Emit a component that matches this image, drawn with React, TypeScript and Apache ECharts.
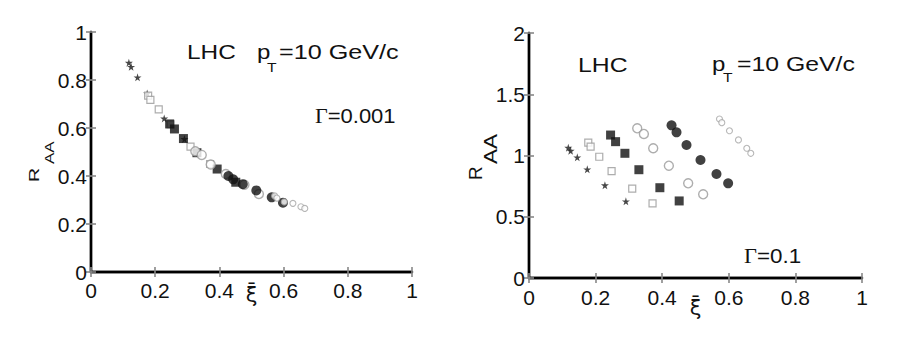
import React, { useEffect, useRef } from "react";
import * as echarts from "echarts";

// ξ̄ values of the six parameter sets (shared by both panels)
const xiA = [0.118, 0.125, 0.145, 0.175, 0.228, 0.291];
const xiB = [0.178, 0.185, 0.211, 0.248, 0.31, 0.371];
const xiC = [0.245, 0.26, 0.288, 0.33, 0.393, 0.451];
const xiD = [0.325, 0.345, 0.373, 0.42, 0.478, 0.523];
const xiE = [0.428, 0.443, 0.473, 0.515, 0.563, 0.598];
const xiF = [0.572, 0.579, 0.602, 0.629, 0.654, 0.666];

// Left panel: Γ = 0.001
const leftA = [0.872, 0.855, 0.811, 0.744, 0.64, 0.554];
const leftB = [0.735, 0.717, 0.678, 0.615, 0.522, 0.45];
const leftC = [0.617, 0.596, 0.556, 0.497, 0.429, 0.374];
const leftD = [0.503, 0.488, 0.448, 0.408, 0.364, 0.325];
const leftE = [0.4, 0.386, 0.366, 0.34, 0.311, 0.289];
const leftF = [0.317, 0.308, 0.292, 0.286, 0.272, 0.265];

// Right panel: Γ = 0.1
const rightA = [1.064, 1.039, 0.985, 0.887, 0.757, 0.626];
const rightB = [1.105, 1.072, 0.99, 0.873, 0.729, 0.609];
const rightC = [1.167, 1.113, 1.018, 0.884, 0.737, 0.629];
const rightD = [1.222, 1.176, 1.059, 0.917, 0.773, 0.683];
const rightE = [1.246, 1.189, 1.086, 0.963, 0.849, 0.773];
const rightF = [1.298, 1.268, 1.202, 1.127, 1.059, 1.018];

const xTicks = { min: 0, max: 1, interval: 0.2 };
const leftYTicks = { min: 0, max: 1, interval: 0.2 };
const rightYTicks = { min: 0, max: 2, interval: 0.5 };

const STAR =
  "path://M50,0 L61,35 L98,35 L68,57 L79,91 L50,70 L21,91 L32,57 L2,35 L39,35 Z";

const markerStyles = [
  { symbol: STAR, symbolSize: 8, itemStyle: { color: "#1a1a1a" } },
  { symbol: "rect", symbolSize: 7, itemStyle: { color: "#fff", borderColor: "#999", borderWidth: 1.2 } },
  { symbol: "rect", symbolSize: 9, itemStyle: { color: "#111" } },
  { symbol: "circle", symbolSize: 9, itemStyle: { color: "#fff", borderColor: "#999", borderWidth: 1.4 } },
  { symbol: "circle", symbolSize: 10, itemStyle: { color: "#111" } },
  { symbol: "circle", symbolSize: 6, itemStyle: { color: "#fff", borderColor: "#a5a5a5", borderWidth: 1.1 } },
];

const FONT = "Liberation Sans";

function pair(xs: number[], ys: number[]) {
  return xs.map((x, i) => [x, ys[i]]);
}

function txt(x: number, y: number, text: string, size: number, sx = 1.24, extra: any = {}) {
  return {
    type: "text",
    x,
    y,
    scaleX: sx,
    silent: true,
    ...extra,
    style: {
      text,
      fontSize: size,
      fontFamily: FONT,
      fill: "#111",
      textAlign: "left",
      textVerticalAlign: "middle",
      ...(extra.style || {}),
    },
  };
}

export default function App() {
  const ref = useRef<HTMLDivElement>(null);
  useEffect(() => {
    if (!ref.current) return;
    const chart = echarts.init(ref.current, undefined, { renderer: "svg" });

    const axisLine = { show: true, lineStyle: { color: "#000", width: 2.4 } };
    const tick = { show: true, inside: true, length: 5, lineStyle: { color: "#888", width: 1.6 } };
    const label = { color: "#111", fontSize: 21, fontFamily: FONT };

    const xs = [xiA, xiB, xiC, xiD, xiE, xiF];
    const ls = [leftA, leftB, leftC, leftD, leftE, leftF];
    const rs = [rightA, rightB, rightC, rightD, rightE, rightF];

    const series: any[] = [];
    xs.forEach((xv, i) => {
      series.push({
        type: "scatter",
        xAxisIndex: 0,
        yAxisIndex: 0,
        data: pair(xv, ls[i]),
        ...markerStyles[i],
      });
      series.push({
        type: "scatter",
        xAxisIndex: 2,
        yAxisIndex: 2,
        data: pair(xv, rs[i]),
        ...markerStyles[i],
      });
    });

    const xName = {
      name: "ξ\u0304",
      nameLocation: "middle",
      nameMoveOverlap: false,
      nameTextStyle: { fontSize: 21, fontFamily: "DejaVu Sans", color: "#111", verticalAlign: "top" },
    };

    chart.setOption({
      animation: false,
      backgroundColor: "#fff",
      grid: [
        { left: 91, top: 32, width: 321, height: 240 },
        { left: 529, top: 33, width: 333, height: 245 },
      ],
      xAxis: [
        { type: "value", gridIndex: 0, ...xTicks, axisLine, axisTick: tick, splitLine: { show: false }, axisLabel: { ...label, margin: 8 }, ...xName, nameGap: 12 },
        { type: "value", gridIndex: 0, position: "top", ...xTicks, axisLine, axisTick: tick, splitLine: { show: false }, axisLabel: { show: false } },
        { type: "value", gridIndex: 1, ...xTicks, axisLine, axisTick: tick, splitLine: { show: false }, axisLabel: { ...label, margin: 9 }, ...xName, nameGap: 19 },
        { type: "value", gridIndex: 1, position: "top", ...xTicks, axisLine, axisTick: tick, splitLine: { show: false }, axisLabel: { show: false } },
      ],
      yAxis: [
        { type: "value", gridIndex: 0, ...leftYTicks, axisLine, axisTick: tick, splitLine: { show: false }, axisLabel: { ...label, margin: 4 } },
        { type: "value", gridIndex: 0, position: "right", ...leftYTicks, axisLine, axisTick: tick, splitLine: { show: false }, axisLabel: { show: false } },
        { type: "value", gridIndex: 1, ...rightYTicks, axisLine, axisTick: tick, splitLine: { show: false }, axisLabel: { ...label, margin: 4 } },
        { type: "value", gridIndex: 1, position: "right", ...rightYTicks, axisLine, axisTick: tick, splitLine: { show: false }, axisLabel: { show: false } },
      ],
      series,
      graphic: [
        // left panel annotations
        txt(187, 52, "LHC", 20, 1.22),
        txt(257, 52, "p", 20, 1.2),
        txt(267, 67, "T", 13, 1.2),
        txt(279, 52, "=10 GeV/c", 20, 1.26),
        txt(315, 116, "{g|Γ}=0.001", 20, 1.1, {
          style: { rich: { g: { fontFamily: "Liberation Serif", fontSize: 20, fill: "#111" } } },
        }),
        txt(34, 182, "R", 15, 1.3, { rotation: Math.PI / 2 }),
        txt(49, 164, "AA", 13, 1.3, { rotation: Math.PI / 2 }),
        // right panel annotations
        txt(578, 65, "LHC", 20, 1.24),
        txt(712, 64, "p", 20, 1.2),
        txt(723, 77, "T", 13, 1.2),
        txt(737, 64, "=10 GeV/c", 20, 1.24),
        txt(744, 256, "{g|Γ}=0.1", 20, 1.12, {
          style: { rich: { g: { fontFamily: "Liberation Serif", fontSize: 20, fill: "#111" } } },
        }),
        txt(475, 180, "R", 19, 1.0, { rotation: Math.PI / 2 }),
        txt(491, 164, "AA", 18, 1.25, { rotation: Math.PI / 2 }),
      ],
    });
    return () => chart.dispose();
  }, []);
  return (
    <div
      ref={ref}
      style={{ position: "absolute", left: 0, top: 0, width: 914, height: 349, background: "#fff" }}
    />
  );
}
